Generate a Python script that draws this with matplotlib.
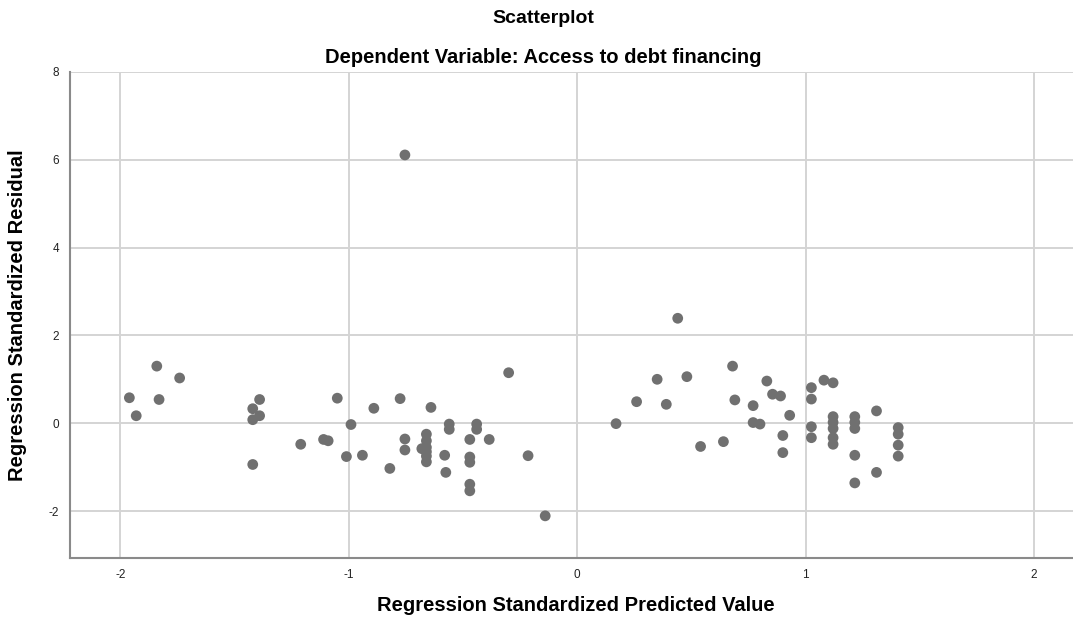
import numpy as np
import matplotlib
matplotlib.use("Agg")
import matplotlib.pyplot as plt

# Regression standardized predicted value / residual
pred = [-1.84, -1.74, -1.96, -1.83, -1.93,
        -1.39, -1.42, -1.39, -1.42, -1.42,
        -1.21, -1.11, -1.09, -1.05, -0.99, -1.01, -0.94, -0.89, -0.82,
        -0.775, -0.754, -0.754, -0.754,
        -0.64, -0.68, -0.66, -0.66, -0.66, -0.66, -0.66, -0.66,
        -0.56, -0.56, -0.58, -0.575,
        -0.47, -0.47, -0.47, -0.47, -0.47, -0.44, -0.44, -0.385,
        -0.30, -0.215, -0.14,
        0.17, 0.26, 0.35, 0.39, 0.44, 0.48, 0.54, 0.64, 0.68, 0.69,
        0.77, 0.77, 0.80, 0.83, 0.855, 0.89, 0.93, 0.90, 0.90,
        1.025, 1.025, 1.025, 1.025, 1.08,
        1.12, 1.12, 1.12, 1.12, 1.12, 1.12,
        1.215, 1.215, 1.215, 1.215, 1.215,
        1.31, 1.31,
        1.405, 1.405, 1.405, 1.405]
resid = [1.30, 1.03, 0.58, 0.54, 0.17,
         0.54, 0.33, 0.17, 0.08, -0.94,
         -0.48, -0.37, -0.40, 0.57, -0.03, -0.76, -0.73, 0.34, -1.03,
         0.56, 6.11, -0.36, -0.61,
         0.36, -0.58, -0.25, -0.40, -0.55, -0.65, -0.75, -0.88,
         -0.02, -0.14, -0.73, -1.12,
         -0.37, -0.77, -0.89, -1.39, -1.54, -0.02, -0.14, -0.37,
         1.15, -0.74, -2.11,
         -0.01, 0.49, 1.00, 0.43, 2.39, 1.06, -0.53, -0.42, 1.30, 0.53,
         0.40, 0.015, -0.02, 0.96, 0.66, 0.62, 0.18, -0.28, -0.67,
         0.81, 0.55, -0.08, -0.33, 0.98,
         0.92, 0.15, 0.02, -0.12, -0.33, -0.48,
         0.15, 0.02, -0.12, -0.73, -1.36,
         0.28, -1.12,
         -0.10, -0.25, -0.50, -0.75]

x_ticks = [-2, -1, 0, 1, 2]
y_ticks = [-2, 0, 2, 4, 6, 8]

plt.rcParams['font.family'] = ['Liberation Sans', 'DejaVu Sans']
plt.rcParams['axes.unicode_minus'] = False

fig = plt.figure(figsize=(10.73, 6.22), dpi=100)
ax = fig.add_axes([0.0652, 0.1029, 0.9348, 0.7814])

ax.scatter(pred, resid, s=60, color='#707070', edgecolors='none', zorder=3)

ax.set_xlim(-2.22, 2.17)
ax.set_ylim(-3.07, 8)
ax.set_xticks(x_ticks)
ax.set_yticks(y_ticks)
ax.grid(True, color='#d4d4d4', linewidth=1.4, zorder=0)
ax.set_axisbelow(True)
ax.tick_params(length=0, labelsize=8.5, pad=8, colors='#222222')

for s in ['top', 'right']:
    ax.spines[s].set_visible(False)
for s in ['left', 'bottom']:
    ax.spines[s].set_color('#8a8a8a')
    ax.spines[s].set_linewidth(1.5)

ax.set_xlabel('Regression Standardized Predicted Value', fontsize=14.5,
              fontweight='bold')
ax.xaxis.set_label_coords(0.5045, -0.097)
ax.xaxis.label.set_va('center')
ax.set_ylabel('Regression Standardized Residual', fontsize=14.5,
              fontweight='bold')
ax.yaxis.set_label_coords(-0.052, 0.5)
ax.yaxis.label.set_va('center')

fig.text(0.506, 0.970, 'Scatterplot', ha='center', va='center',
         fontsize=14, fontweight='bold')
fig.text(0.506, 0.908, 'Dependent Variable: Access to debt financing',
         ha='center', va='center', fontsize=14.5, fontweight='bold')

fig.savefig('out.png', dpi=100)
